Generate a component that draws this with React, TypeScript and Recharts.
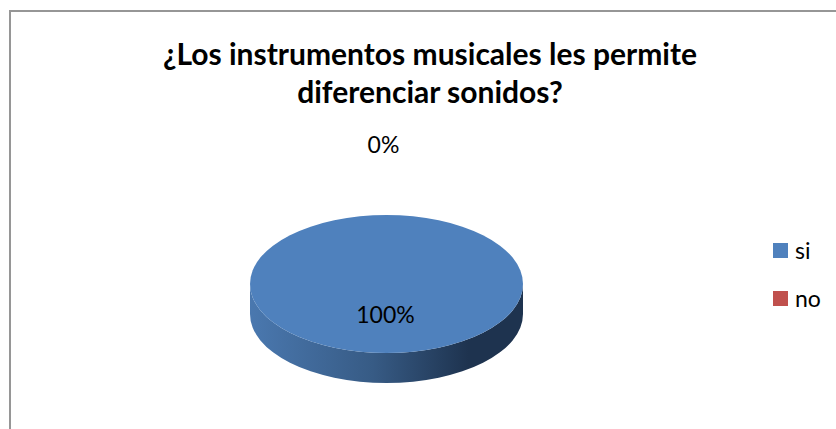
import React from "react";
import { PieChart, Pie, Legend } from "recharts";

const categories = ["si", "no"];
const values = [100, 0];
const colors = ["#4F81BD", "#C0504D"];
const titleLines = ["¿Los instrumentos musicales les permite", "diferenciar sonidos?"];
const data = categories.map((name, i) => ({ name, value: values[i], fill: colors[i] }));

const FONT = "Lato, Carlito, sans-serif";
const SQUASH = 69 / 136.5;
const DEPTH = 30;

function Slice3D(props: any) {
  const { cx, cy, outerRadius, startAngle, endAngle, fill } = props;
  if (Math.abs(endAngle - startAngle) < 0.01) return <g />;
  const rx = outerRadius;
  const ry = outerRadius * SQUASH;
  const side = `M${cx - rx},${cy} A${rx},${ry} 0 0 0 ${cx + rx},${cy} L${cx + rx},${cy + DEPTH} A${rx},${ry} 0 0 1 ${cx - rx},${cy + DEPTH} Z`;
  return (
    <g>
      <path d={side} fill="url(#sideGrad)" />
      <ellipse cx={cx} cy={cy} rx={rx} ry={ry} fill={fill} />
    </g>
  );
}

function renderLabel(props: any) {
  const { cx, cy, percent, index } = props;
  const y = index === 0 ? cy + 30 : cy - 140;
  const x = index === 0 ? cx - 1 : cx - 3;
  return (
    <text x={x} y={y} textAnchor="middle" dominantBaseline="central" fontFamily={FONT} fontSize={23} fill="#000">
      {`${Math.round(percent * 100)}%`}
    </text>
  );
}

function LegendBox({ payload }: any) {
  const items = categories.map((c) => (payload || []).find((p: any) => p.value === c)).filter(Boolean);
  return (
    <div style={{ fontFamily: FONT }}>
      {items.map((p: any) => (
        <div key={p.value} style={{ display: "flex", alignItems: "center", height: 48 }}>
          <span style={{ width: 15, height: 15, background: p.payload.fill, marginRight: 7, display: "block" }} />
          <span style={{ fontSize: 23, color: "#000", lineHeight: "24px" }}>{p.value}</span>
        </div>
      ))}
    </div>
  );
}

export default function App() {
  return (
    <div style={{ position: "absolute", left: 0, top: 0, width: 836, height: 429, background: "#fff", overflow: "hidden" }}>
      <div style={{ position: "absolute", left: 9, top: 10, width: 900, height: 600, border: "2px solid #969696", boxSizing: "border-box" }} />
      <PieChart width={836} height={429} margin={{ top: 0, right: 0, bottom: 0, left: 0 }} style={{ position: "absolute", left: 0, top: 0 }}>
        <defs>
          <linearGradient id="sideGrad" x1="0" y1="0" x2="1" y2="0">
            <stop offset="0%" stopColor="#4A78AF" />
            <stop offset="45%" stopColor="#375B85" />
            <stop offset="80%" stopColor="#1E334F" />
            <stop offset="100%" stopColor="#1E334F" />
          </linearGradient>
        </defs>
        <text textAnchor="middle" fontFamily={FONT} fontWeight={700} fontSize={30} fill="#000">
          <tspan x={430} y={65}>{titleLines[0]}</tspan>
          <tspan x={430} y={103}>{titleLines[1]}</tspan>
        </text>
        <Pie
          data={data}
          dataKey="value"
          nameKey="name"
          cx={386.5}
          cy={284}
          outerRadius={136.5}
          innerRadius={0}
          startAngle={90}
          endAngle={-270}
          stroke="none"
          isAnimationActive={false}
          shape={Slice3D}
          label={renderLabel}
          labelLine={false}
        />
        <Legend
          layout="vertical"
          align="right"
          verticalAlign="top"
          content={<LegendBox />}
          wrapperStyle={{ position: "absolute", left: 773, top: 226, width: 63 }}
        />
      </PieChart>
    </div>
  );
}
